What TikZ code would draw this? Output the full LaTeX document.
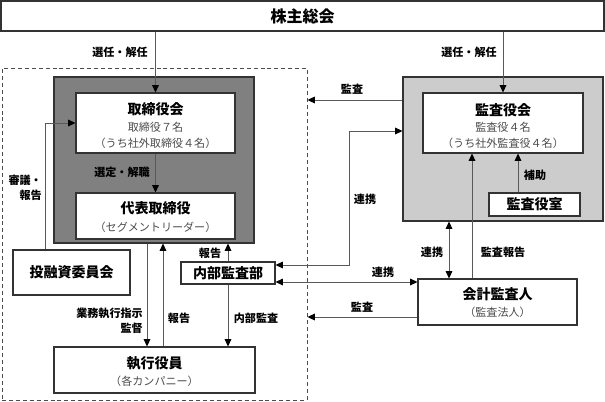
\documentclass[tikz,border=0pt]{standalone}
\usepackage{fontspec}
\setmainfont{Noto Sans CJK JP}
\usetikzlibrary{arrows.meta,fit}
\begin{document}
\begin{tikzpicture}[x=0.75pt,y=-0.75pt,
  box/.style={draw=black!80, line width=0.8pt, fill=white, inner sep=0pt},
  ln/.style={draw=black!65, line width=0.7pt},
  tip/.style={Triangle[length=5.5pt,width=5pt,color=black]},
  arr/.style={ln,-{Triangle[length=5.5pt,width=5pt,color=black]}},
  darr/.style={ln,{Triangle[length=5.5pt,width=5pt,color=black]}-{Triangle[length=5.5pt,width=5pt,color=black]}},
  ttl/.style={font=\fontsize{10.5}{12}\selectfont\bfseries, inner sep=0pt},
  sub/.style={font=\fontsize{8.3}{10}\selectfont, text=black!70, inner sep=0pt},
  lbl/.style={font=\fontsize{8.3}{11.5}\selectfont\bfseries, inner sep=0pt},
]
\useasboundingbox (0,0) rectangle (605,402);

% boxes
\node[box, fit={(1,1)(604,31)}] (kabu) {};
\node[ttl, font=\fontsize{12}{14}\selectfont\bfseries] (kabut) at (kabu.center) {株主総会};
\node[draw=black!70, line width=0.7pt, dash pattern=on 3pt off 2.2pt, inner sep=0pt, fit={(2,68)(307,400)}] (dash) {};

\node[box, fill=black!50, fit={(54,77)(254,243)}] (tbo) {};
\node[box, fit={(76,93)(235,153)}] (tbk) {};
\node[ttl] (tbk1) at (155.5,109) {取締役会};
\node[sub] (tbk2) at (155.5,127) {取締役７名};
\node[sub] (tbk3) at (155.5,143) {（うち社外取締役４名）};

\node[box, fit={(76,193)(235,239)}] (dai) {};
\node[ttl] (dai1) at (155.5,208) {代表取締役};
\node[sub] (dai2) at (155.5,227) {（セグメントリーダー）};

\node[box, fit={(13,250)(130,295)}] (touyu) {};
\node[ttl] (touyut) at (touyu.center) {投融資委員会};

\node[box, fit={(181,262)(275,284)}] (naibu) {};
\node[ttl] (naibut) at (naibu.center) {内部監査部};

\node[box, fit={(54,347)(255,393)}] (shikkou) {};
\node[ttl] (shikkou1) at (154.5,363) {執行役員};
\node[sub] (shikkou2) at (154.5,381) {（各カンパニー）};

\node[box, fill=black!20, fit={(403,77)(603,221)}] (kbo) {};
\node[box, fit={(423,93)(583,153)}] (kbk) {};
\node[ttl] (kbk1) at (503,110) {監査役会};
\node[sub] (kbk2) at (503,127) {監査役４名};
\node[sub] (kbk3) at (503,143) {（うち社外監査役４名）};

\node[box, fit={(489,193)(580,216)}] (kstaff) {};
\node[ttl] (kstafft) at (kstaff.center) {監査役室};

\node[box, fit={(418,279)(577,325)}] (kaikei) {};
\node[ttl] (kaikei1) at (497.5,294) {会計監査人};
\node[sub] (kaikei2) at (497.5,312) {（監査法人）};

% helper coordinates
\coordinate (xA) at (155.5,0);
\coordinate (xB) at (503,0);
\coordinate (xC) at (147,0);
\coordinate (xD) at (163,0);
\coordinate (xF) at (449,0);
\coordinate (xG) at (472,0);
\coordinate (xH) at (45,0);
\coordinate (xJ) at (349,0);
\coordinate (xK) at (518,0);
\coordinate (yA) at (0,100);
\coordinate (yB) at (0,131);
\coordinate (yC) at (0,265);
\coordinate (yD) at (0,282);
\coordinate (yE) at (0,317);
\coordinate (yF) at (0,123);

% connectors
\draw[arr] (kabu.south -| xA) -- (tbk.north -| xA);
\draw[arr] (kabu.south -| xB) -- (kbk.north -| xB);
\draw[arr] (tbk.south -| xA) -- (dai.north -| xA);
\draw[arr] (touyu.north -| xH) -- (xH |- yF) -- (tbk.west |- yF);
\draw[arr] (tbo.south -| xC) -- (shikkou.north -| xC);
\draw[arr] (shikkou.north -| xD) -- (tbo.south -| xD);
\draw[arr] (naibu.north) -- (tbo.south -| naibu.north);
\draw[arr] (naibu.south) -- (shikkou.north -| naibu.south);
\draw[arr] (kbo.west |- yA) -- (dash.east |- yA);
\draw[darr] (naibu.east |- yC) -- (xJ |- yC) -- (xJ |- yB) -- (kbo.west |- yB);
\draw[darr] (naibu.east |- yD) -- (kaikei.west |- yD);
\draw[darr] (kbo.south -| xF) -- (kaikei.north -| xF);
\draw[arr] (kaikei.north -| xG) -- (kbk.south -| xG);
\draw[arr] (kaikei.west |- yE) -- (dash.east |- yE);
\draw[arr] (kstaff.north -| xK) -- (kbk.south -| xK);

% labels
\node[lbl] (l1) at (120,52) {選任・解任};
\node[lbl] (l2) at (469,52) {選任・解任};
\node[lbl] (l3) at (352,89) {監査};
\node[lbl] (l4) at (122,172) {選定・解職};
\node[lbl, align=right, anchor=east] (l5) at (42,188) {審議・\\報告};
\node[lbl] (l6) at (210,253) {報告};
\node[lbl, align=right, anchor=east] (l7) at (143,321) {業務執行指示\\監督};
\node[lbl] (l8) at (179,318) {報告};
\node[lbl] (l9) at (256,318) {内部監査};
\node[lbl] (l10) at (365,199) {連携};
\node[lbl] (l11) at (535,175) {補助};
\node[lbl] (l12) at (432,252) {連携};
\node[lbl] (l13) at (503,252) {監査報告};
\node[lbl] (l14) at (383,272) {連携};
\node[lbl] (l15) at (362,307) {監査};
\end{tikzpicture}
\end{document}
